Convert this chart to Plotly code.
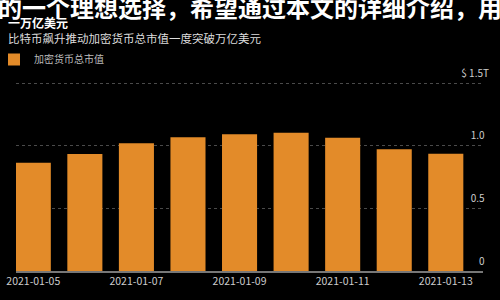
import plotly.graph_objects as go

# ---- data ----
dates = ["2021-01-05", "2021-01-06", "2021-01-07", "2021-01-08", "2021-01-09",
         "2021-01-10", "2021-01-11", "2021-01-12", "2021-01-13"]
market_cap_trillion = [0.864, 0.934, 1.019, 1.067, 1.091, 1.104, 1.064, 0.971, 0.936]
series_name = "加密货币总市值"
y_tickvals = [0, 0.5, 1.0, 1.5]
y_ticktext = ["0\u00a0\u00a0", "0.5\u00a0\u00a0", "1.0\u00a0\u00a0", "$ 1.5T"]
x_tickvals = ["2021-01-05", "2021-01-07", "2021-01-09", "2021-01-11", "2021-01-13"]
x_ticktext = ["2021-01-05", "2021-01-07", "2021-01-09", "2021-01-11", "2021-01-13"]
headline = "一万亿美元"
subtitle = "比特币飙升推动加密货币总市值一度突破万亿美元"
watermark = "的一个理想选择，希望通过本文的详细介绍，用"

FONT = "Noto Sans CJK SC"
BAR_COLOR = "#E38B29"

TOP, BOTTOM = 45, 271          # plot area pixel rows
PX_PER_UNIT = 125.3
YMAX = (BOTTOM - TOP) / PX_PER_UNIT
PLOT_H = BOTTOM - TOP

fig = go.Figure()
fig.add_trace(go.Bar(
    x=dates, y=market_cap_trillion, name=series_name,
    marker=dict(color=BAR_COLOR, line=dict(width=0)),
    showlegend=True,
))

fig.update_layout(
    width=500, height=300,
    margin=dict(l=16, r=17, t=TOP, b=300 - BOTTOM, pad=0, autoexpand=False),
    paper_bgcolor="#000000", plot_bgcolor="#000000",
    font=dict(family=FONT, color="#cccccc", size=10),
    bargap=0.32,
    title=dict(
        text=f"<b>{headline}</b><br><span style='font-size:11.5px;color:#dddddd'>{subtitle}</span>",
        font=dict(family=FONT, size=12, color="#ffffff"),
        xref="container", yref="container", x=0.016, xanchor="left",
        y=1 - 27.5 / 300, yanchor="top",
    ),
    showlegend=True,
    legend=dict(
        xref="paper", yref="paper", x=-22 / 467, xanchor="left",
        y=(BOTTOM - 59.5) / PLOT_H, yanchor="middle",
        orientation="h", bgcolor="rgba(0,0,0,0)",
        font=dict(family=FONT, size=10, color="#bbbbbb"),
        itemwidth=30, tracegroupgap=0,
    ),
    xaxis=dict(
        type="date",
        range=["2021-01-04 15:57", "2021-01-13 17:19"],
        tickvals=x_tickvals, ticktext=x_ticktext,
        showgrid=False, zeroline=False,
        showline=True, linecolor="#777777", linewidth=1.5,
        ticks="", tickfont=dict(family=FONT, size=10.5, color="#cccccc"),
    ),
    yaxis=dict(
        range=[0, YMAX],
        side="right",
        tickvals=y_tickvals, ticktext=y_ticktext,
        ticklabelposition="inside",
        ticklabelshift=-10,
        ticklabelstandoff=-9,
        ticks="",
        showgrid=True, gridcolor="#4a4a4a", griddash="dot", gridwidth=1,
        zeroline=False, showline=False,
        tickfont=dict(family=FONT, size=10, color="#cccccc"),
    ),
    annotations=[dict(
        text=f"<b>{watermark}</b>",
        xref="paper", yref="paper",
        x=(-4 - 16) / 467, xanchor="left",
        y=1 + (TOP - 6) / PLOT_H, yanchor="middle",
        showarrow=False,
        font=dict(family=FONT, size=24, color="#ffffff"),
    )],
)

fig.write_html("out.html")
